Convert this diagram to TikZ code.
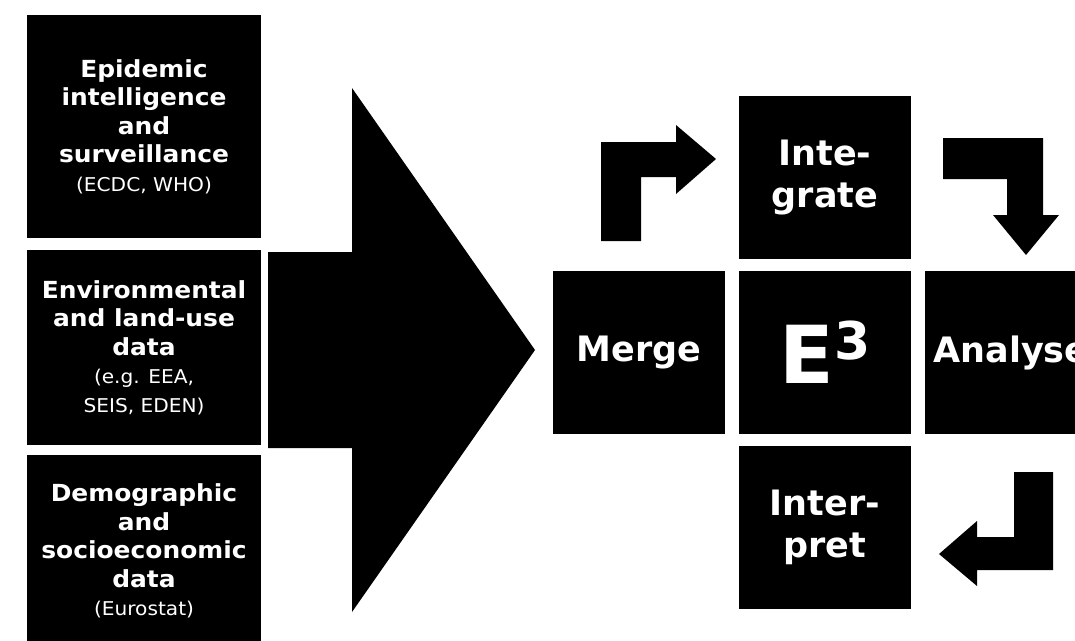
\documentclass[tikz,border=0pt]{standalone}
\usepackage{fontspec}
\setmainfont{DejaVu Sans}
\newfontfamily\widefont[FakeStretch=1.06]{DejaVu Sans}
\begin{document}
\begin{tikzpicture}[x=1pt,y=-1pt,
  srcbox/.style={fill=black, text=white, inner sep=0pt, minimum width=234pt, align=center,
    font=\widefont\bfseries\fontsize{23.5}{28.5}\selectfont},
  stepbox/.style={fill=black, text=white, inner sep=0pt, minimum width=172pt, minimum height=163pt,
    align=center, font=\bfseries\fontsize{35}{42}\selectfont},
  blockarrow/.style={fill=black}]
\useasboundingbox (0,0) rectangle (1075,640);
\clip (0,0) rectangle (1075,640);
\newcommand{\smalltxt}[1]{{\mdseries\fontsize{19}{23}\selectfont #1}}
% source boxes
\node[srcbox, minimum height=223pt] (epi) at (144,126.5)
  {Epidemic\\intelligence\\and\\surveillance\\\smalltxt{(ECDC, WHO)}};
\node[srcbox, minimum height=195pt] (env) at (144,347.5)
  {Environmental\\and land-use\\data\\\smalltxt{(e.g. EEA,}\\\smalltxt{SEIS, EDEN)}};
\node[srcbox, minimum height=192pt] (dem) at (144,551)
  {Demographic\\and\\socioeconomic\\data\\\smalltxt{(Eurostat)}};
% big arrow
\fill[blockarrow] (268,252) -- (352,252) -- (352,88) -- (535,350) -- (352,612) -- (352,448) -- (268,448) -- cycle;
% process boxes
\node[stepbox] (int) at (825,177.5) {Inte-\\grate};
\node[stepbox] (mer) at (639,352.5) {Merge};
\node[stepbox, font=\bfseries\fontsize{80}{90}\selectfont] (e3) at (825,352.5) {E\raisebox{24pt}{\fontsize{52}{60}\selectfont 3}};
\node[stepbox] (ana) at (1011,352.5) {Analyse};
\node[stepbox] (itp) at (825,527.5) {Inter-\\pret};
% bent arrows
\fill[blockarrow] (601,241) -- (601,142) -- (676,142) -- (676,125) -- (716,159) -- (676,194) -- (676,177) -- (641,177) -- (641,241) -- cycle;
\fill[blockarrow] (943,138) -- (1043,138) -- (1043,215) -- (1059,215) -- (1026,255) -- (993,215) -- (1007,215) -- (1007,179) -- (943,179) -- cycle;
\fill[blockarrow] (1053,472) -- (1053,570) -- (977,570) -- (977,586) -- (939,554) -- (977,521) -- (977,537) -- (1014,537) -- (1014,472) -- cycle;
\end{tikzpicture}
\end{document}
